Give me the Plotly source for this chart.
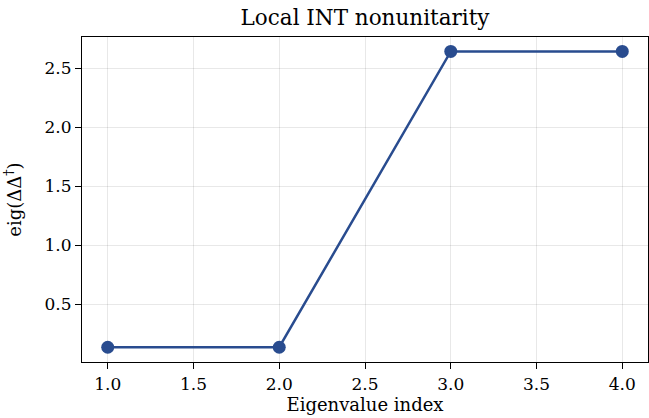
import plotly.graph_objects as go

eig_index = [1, 2, 3, 4]
eig_values = [0.137, 0.137, 2.643, 2.643]
x_ticks = [1.0, 1.5, 2.0, 2.5, 3.0, 3.5, 4.0]
y_ticks = [0.5, 1.0, 1.5, 2.0, 2.5]

color = "#294c8f"
font = "DejaVu Serif"

fig = go.Figure()
fig.add_trace(go.Scatter(
    x=eig_index, y=eig_values, mode="lines+markers",
    line=dict(color=color, width=2.5),
    marker=dict(color=color, size=13),
    showlegend=False,
))

axis_common = dict(
    showline=True, linecolor="black", linewidth=1.2, mirror=True,
    ticks="outside", ticklen=6, tickwidth=1.2, tickcolor="black",
    showgrid=True, gridcolor="rgba(0,0,0,0.09)", gridwidth=1,
    zeroline=False, automargin=False,
    tickfont=dict(family=font, size=17, color="black"),
)

fig.update_layout(
    width=649, height=418,
    margin=dict(l=82, r=1, t=37, b=56),
    paper_bgcolor="white", plot_bgcolor="white",
    title=dict(text="Local INT nonunitarity", x=0.5, xanchor="center",
               xref="paper", y=0.957, yanchor="middle",
               font=dict(family=font, size=21.5, color="black")),
    xaxis=dict(range=[0.85, 4.15], tickvals=x_ticks,
               ticktext=[f"{v:.1f}" for v in x_ticks],
               title=dict(text="Eigenvalue index", standoff=5,
                          font=dict(family=font, size=18, color="black")),
               **axis_common),
    yaxis=dict(range=[0.012, 2.765], tickvals=y_ticks,
               ticktext=[f"{v:.1f}" for v in y_ticks],
               title=dict(text="eig(ΔΔ<sup>†</sup>)", standoff=18,
                          font=dict(family=font, size=18, color="black")),
               **axis_common),
)

fig.write_html("out.html")
